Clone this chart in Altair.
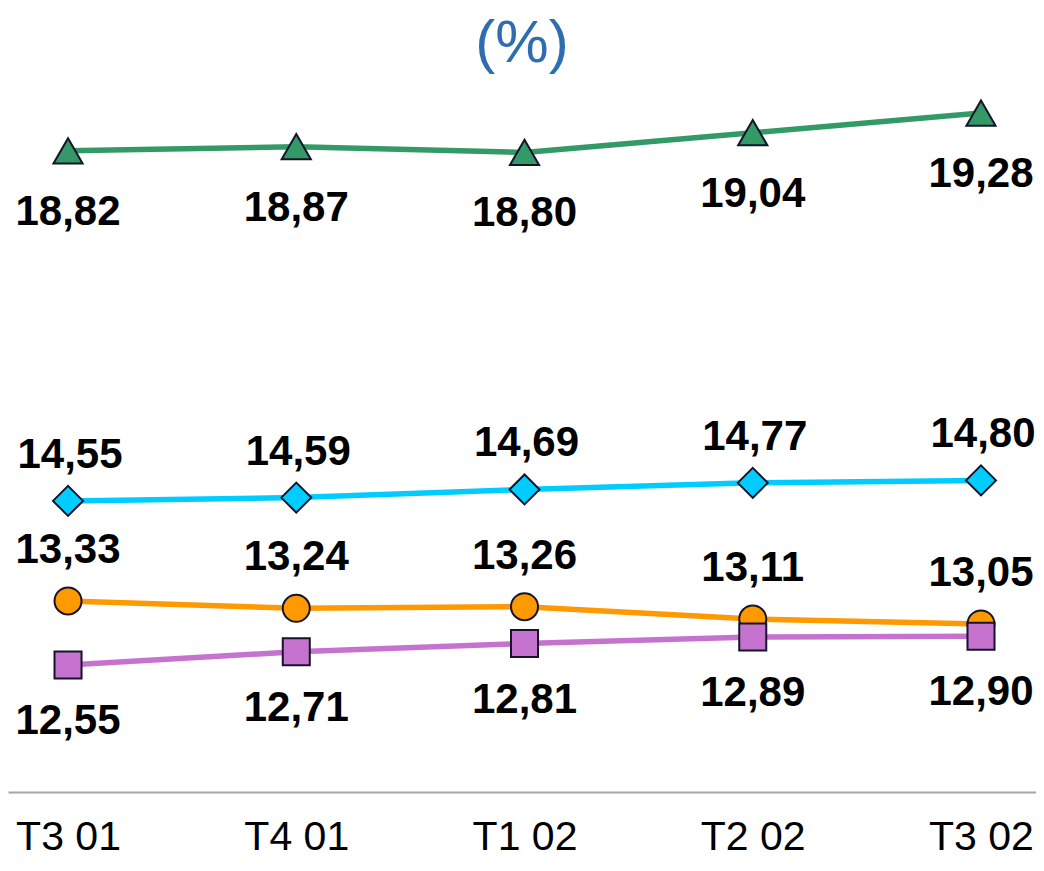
import altair as alt
import pandas as pd

quarters = ["T3 01", "T4 01", "T1 02", "T2 02", "T3 02"]
series_names = ["Verde", "Cian", "Naranja", "Morado"]
green_vals = [18.82, 18.87, 18.80, 19.04, 19.28]
cyan_vals = [14.55, 14.59, 14.69, 14.77, 14.80]
orange_vals = [13.33, 13.24, 13.26, 13.11, 13.05]
purple_vals = [12.55, 12.71, 12.81, 12.89, 12.90]

colors = ["#339966", "#00CCFF", "#FF9900", "#C673CF"]
shapes = ["triangle-up", "diamond", "circle", "square"]
sizes = [850, 900, 730, 730]
label_dy = [61, -46, -51, 56]
label_dx = [0, 2, 0, 0]

all_vals = [green_vals, cyan_vals, orange_vals, purple_vals]
rows = []
for s, vals in zip(series_names, all_vals):
    for i, (q, v) in enumerate(zip(quarters, vals)):
        rows.append({"serie": s, "idx": i, "trimestre": q, "valor": v,
                     "etiqueta": f"{v:.2f}".replace(".", ",")})
df = pd.DataFrame(rows)

FONT = "Liberation Sans"
label_array = "[" + ",".join(f"'{q}'" for q in quarters) + "]"

x_enc = alt.X("idx:Q",
              scale=alt.Scale(domain=[-0.263, 4.241], nice=False, zero=False),
              axis=alt.Axis(title=None, values=list(range(len(quarters))),
                            labelExpr=f"{label_array}[datum.value]",
                            labelAngle=0, labelFontSize=41, labelColor="black",
                            labelFont=FONT, ticks=False, tickSize=0,
                            labelPadding=25, labelFlush=False, labelOverlap=False,
                            domainColor="#A6A6A6", domainWidth=2, grid=False))
y_scale = alt.Scale(domain=[11, 20], zero=False, nice=False)
y_enc = alt.Y("valor:Q", scale=y_scale, axis=None)

layers = []
for s, c, sh, sz, dy, dx in zip(series_names, colors, shapes, sizes, label_dy, label_dx):
    base = alt.Chart(df).transform_filter(alt.datum.serie == s)
    line = base.mark_line(color=c, strokeWidth=5.5).encode(x=x_enc, y=y_enc)
    pts = base.mark_point(shape=sh, size=sz, filled=True, color=c, opacity=1,
                          stroke="#14142B", strokeWidth=2).encode(x=x_enc, y=y_enc)
    txt = base.mark_text(fontSize=42, fontWeight="bold", font=FONT, color="black",
                         dy=dy, dx=dx, baseline="middle", align="center").encode(
        x=x_enc, y=y_enc, text="etiqueta:N")
    layers.append((line, pts, txt))

ordered = [l[0] for l in layers] + [l[1] for l in layers] + [l[2] for l in layers]

chart = alt.layer(*ordered).properties(
    width=1028, height=738,
    title=alt.TitleParams("(%)", fontSize=60, color="#2E6EB0", font=FONT,
                          fontWeight="normal", anchor="middle", offset=-21),
    autosize=alt.AutoSizeParams(type="none"),
    padding={"left": 0, "top": 46, "right": 0, "bottom": 66},
).configure_view(stroke=None)

chart.save("out.html", embed_options={"renderer": "svg", "actions": False})
